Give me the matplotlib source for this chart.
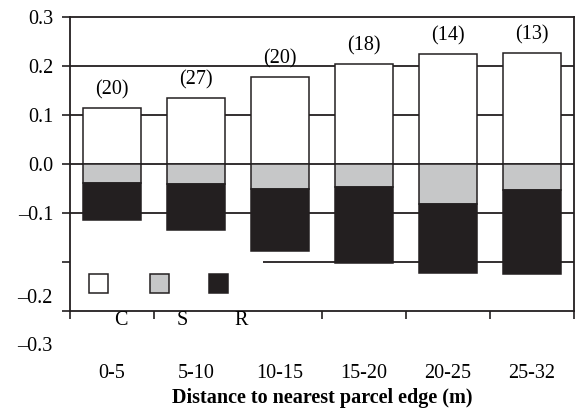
import matplotlib.pyplot as plt
from matplotlib.patches import Rectangle

plt.rcParams['font.family'] = ['Liberation Serif', 'DejaVu Serif']

# values
categories = ['0-5', '5-10', '10-15', '15-20', '20-25', '25-32']
c_vals = [0.115, 0.135, 0.178, 0.204, 0.224, 0.226]
s_vals = [-0.039, -0.041, -0.051, -0.046, -0.082, -0.053]
r_vals = [-0.075, -0.094, -0.126, -0.157, -0.141, -0.172]
counts = ['(20)', '(27)', '(20)', '(18)', '(14)', '(13)']

black = '#231f20'
grey = '#c6c7c8'
fs = 14.5

fig = plt.figure(figsize=(5.76, 4.12), dpi=100)
ax = fig.add_axes([0.1215, 0.2451, 0.875, 0.7136])

x = list(range(len(categories)))
w = 0.68

# grid lines sit behind the bars
for yv in [0.2, 0.1, 0.0, -0.1]:
    ax.axhline(yv, color=black, lw=1.3, zorder=1)
ax.hlines(-0.2, 1.8, 5.5, color=black, lw=1.3, zorder=1)

ax.bar(x, c_vals, w, color='white', edgecolor=black, lw=1.1, zorder=2)
ax.bar(x, s_vals, w, color=grey, edgecolor=black, lw=1.1, zorder=2)
ax.bar(x, r_vals, w, bottom=s_vals, color=black, edgecolor=black, lw=1.1, zorder=2)

for xi, top, lab in zip(x, c_vals, counts):
    ax.annotate(lab, (xi, top), xytext=(0, 13), textcoords='offset points',
                ha='center', va='center', fontsize=fs)

ax.set_xlim(-0.5, 5.5)
ax.set_ylim(-0.3, 0.3)

ax.set_yticks([0.3, 0.2, 0.1, 0.0, -0.1, -0.2, -0.3])
ax.set_yticklabels(['0.3', '0.2', '0.1', '0.0', '\u20130.1', '', ''], fontsize=fs)
ax.set_xticks([-0.5, 0.5, 2.5, 3.5, 4.5, 5.5])
ax.set_xticklabels([])
ax.tick_params(axis='both', direction='out', length=6, width=1.2, color=black)
ax.tick_params(axis='y', pad=6)
for sp in ax.spines.values():
    sp.set_linewidth(1.3)
    sp.set_color(black)

# misplaced lower y labels, as in the original
ax.text(-0.034, 0.044, '\u20130.2', transform=ax.transAxes, ha='right', va='center', fontsize=fs)
ax.text(-0.034, -0.119, '\u20130.3', transform=ax.transAxes, ha='right', va='center', fontsize=fs)

# category labels sit well below the axis
for xi, lab in zip(x, categories):
    ax.text((xi + 0.5) / 6, -0.211, lab, transform=ax.transAxes,
            ha='center', va='center', fontsize=fs)
ax.text(0.5, -0.296, 'Distance to nearest parcel edge (m)', transform=ax.transAxes,
        ha='center', va='center', fontsize=fs, fontweight='bold')

# legend: squares inside, letters under the axis
sw, sh = 0.0377, 0.0646
for cx, col in zip([0.0556, 0.1786, 0.2937], ['white', grey, black]):
    ax.add_patch(Rectangle((cx - sw / 2, 0.0952 - sh / 2), sw, sh, transform=ax.transAxes,
                           facecolor=col, edgecolor=black, lw=1.1, zorder=3))
for lx, lab in zip([0.101, 0.222, 0.339], ['C', 'S', 'R']):
    ax.text(lx, -0.031, lab, transform=ax.transAxes, ha='center', va='center', fontsize=fs)

fig.savefig('out.png', dpi=100)
